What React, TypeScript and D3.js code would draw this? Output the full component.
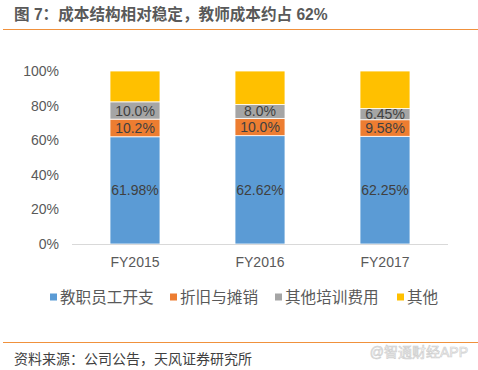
import React, { useEffect, useRef } from 'react';
import * as d3 from 'd3';

const years = ['FY2015', 'FY2016', 'FY2017'];
const seriesNames = ['教职员工开支', '折旧与摊销', '其他培训费用', '其他'];
const staff = [61.98, 62.62, 62.25];
const depreciation = [10.2, 10.0, 9.58];
const otherTraining = [10.0, 8.0, 6.45];
const others = [17.82, 19.38, 21.72];
const labelTexts = [
  ['61.98%', '62.62%', '62.25%'],
  ['10.2%', '10.0%', '9.58%'],
  ['10.0%', '8.0%', '6.45%'],
];
const yTicks = [0, 20, 40, 60, 80, 100];
const colors = ['#5B9BD5', '#ED7D31', '#A5A5A5', '#FFC000'];

const App: React.FC = () => {
  const svgRef = useRef<SVGSVGElement>(null);

  useEffect(() => {
    const width = 478;
    const height = 370;
    const svg = d3.select(svgRef.current);
    svg.selectAll('*').remove();
    svg.attr('width', width).attr('height', height);

    const font = '"Liberation Sans", "Noto Sans CJK SC", Arial, sans-serif';

    svg.append('rect').attr('width', width).attr('height', height).attr('fill', '#fff');

    // title
    svg.append('text')
      .attr('x', 14)
      .attr('y', 20)
      .style('font-family', font)
      .style('font-size', '15.6px')
      .style('font-weight', 'bold')
      .style('fill', '#595959')
      .text('图 7：成本结构相对稳定，教师成本约占 62%');

    svg.append('line')
      .attr('x1', 3).attr('x2', 478)
      .attr('y1', 29.5).attr('y2', 29.5)
      .attr('stroke', '#F0913C').attr('stroke-width', 1.2);

    const x = d3.scaleBand().domain(years).range([72.5, 447.5]).paddingInner(0).paddingOuter(0);
    const y = d3.scaleLinear().domain([0, 100]).range([244, 71]);
    const barW = 50;

    const rows = years.map((yr, i) => ({
      year: yr,
      s0: staff[i], s1: depreciation[i], s2: otherTraining[i], s3: others[i],
    }));
    const stack = d3.stack<any>().keys(['s0', 's1', 's2', 's3'])(rows);

    // y axis labels
    svg.append('g').selectAll('text')
      .data(yTicks)
      .join('text')
      .attr('x', 59)
      .attr('y', d => y(d))
      .attr('dy', '0.35em')
      .attr('text-anchor', 'end')
      .style('font-family', font)
      .style('font-size', '14px')
      .style('fill', '#595959')
      .text(d => `${d}%`);

    // bars
    stack.forEach((layer, si) => {
      svg.append('g').selectAll('rect')
        .data(layer)
        .join('rect')
        .attr('x', d => x(d.data.year)! + x.bandwidth() / 2 - barW / 2)
        .attr('y', d => y(d[1]))
        .attr('width', barW)
        .attr('height', d => y(d[0]) - y(d[1]))
        .attr('fill', colors[si])
        .attr('stroke', '#fff')
        .attr('stroke-width', 0.8);
    });

    // data labels
    stack.slice(0, 3).forEach((layer, si) => {
      svg.append('g').selectAll('text')
        .data(layer)
        .join('text')
        .attr('x', d => x(d.data.year)! + x.bandwidth() / 2)
        .attr('y', d => y((d[0] + d[1]) / 2))
        .attr('dy', '0.36em')
        .attr('text-anchor', 'middle')
        .style('font-family', font)
        .style('font-size', '14px')
        .style('fill', '#404040')
        .text((d, i) => labelTexts[si][i]);
    });

    // x axis
    svg.append('line')
      .attr('x1', 72).attr('x2', 448)
      .attr('y1', 244.5).attr('y2', 244.5)
      .attr('stroke', '#D9D9D9').attr('stroke-width', 1);

    svg.append('g').selectAll('text')
      .data(years)
      .join('text')
      .attr('x', d => x(d)! + x.bandwidth() / 2)
      .attr('y', 267)
      .attr('text-anchor', 'middle')
      .style('font-family', font)
      .style('font-size', '14px')
      .style('fill', '#595959')
      .text(d => d);

    // legend
    const legendX = [50, 170, 275, 397];
    seriesNames.forEach((name, i) => {
      const g = svg.append('g').attr('transform', `translate(${legendX[i]},297)`);
      g.append('rect')
        .attr('x', 0).attr('y', -3.5)
        .attr('width', 7).attr('height', 7)
        .attr('fill', colors[i]);
      g.append('text')
        .attr('x', 10)
        .attr('y', 0)
        .attr('dy', '0.36em')
        .style('font-family', font)
        .style('font-size', '15.6px')
        .style('fill', '#595959')
        .text(name);
    });

    // footer
    svg.append('line')
      .attr('x1', 3).attr('x2', 478)
      .attr('y1', 342.5).attr('y2', 342.5)
      .attr('stroke', '#F0913C').attr('stroke-width', 1.2);

    svg.append('text')
      .attr('x', 14)
      .attr('y', 364)
      .style('font-family', font)
      .style('font-size', '14px')
      .style('fill', '#404040')
      .text('资料来源：公司公告，天风证券研究所');

    svg.append('text')
      .attr('x', 468)
      .attr('y', 357)
      .attr('text-anchor', 'end')
      .style('font-family', font)
      .style('font-size', '14px')
      .style('fill', '#fff')
      .style('stroke', '#D0D0D0')
      .style('stroke-width', 0.7)
      .text('@智通财经APP');
  }, []);

  return (
    <div style={{ position: 'absolute', left: 0, top: 0 }}>
      <svg ref={svgRef}></svg>
    </div>
  );
};

export default App;
